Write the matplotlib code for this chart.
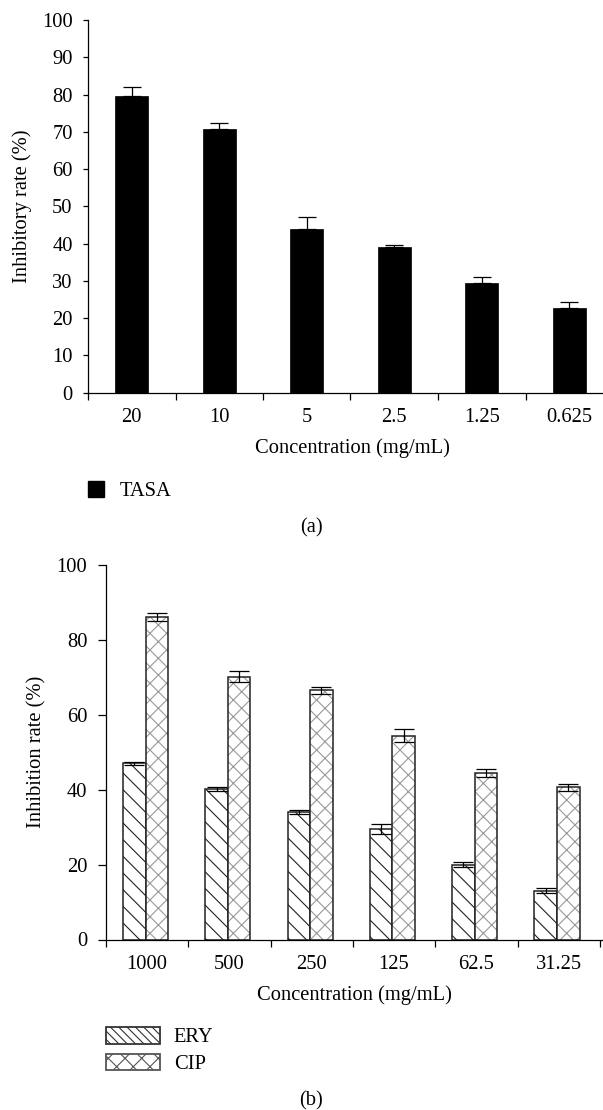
import matplotlib
matplotlib.use("Agg")
import matplotlib.pyplot as plt
import matplotlib.patches as mpatches
import numpy as np

plt.rcParams['font.family'] = ['Liberation Serif', 'DejaVu Serif']
plt.rcParams['font.size'] = 14.8
plt.rcParams['hatch.linewidth'] = 0.8

# panel (a)
conc_a = ["20", "10", "5", "2.5", "1.25", "0.625"]
tasa = [79.7, 70.8, 44.0, 39.0, 29.4, 22.7]
tasa_err = [2.3, 1.6, 3.2, 0.7, 1.6, 1.6]

# panel (b)
conc_b = ["1000", "500", "250", "125", "62.5", "31.25"]
ery = [47.0, 40.2, 34.0, 29.5, 20.0, 13.0]
ery_err = [0.4, 0.5, 0.6, 1.3, 0.75, 0.7]
cip = [86.2, 70.2, 66.5, 54.4, 44.4, 40.6]
cip_err = [1.1, 1.5, 1.0, 1.7, 1.1, 0.9]

W, H = 603, 1110
fig = plt.figure(figsize=(W / 100, H / 100), dpi=100)


def style_axis(ax, n, ymax, ystep, labels, ylen):
    for s in ["top", "right"]:
        ax.spines[s].set_visible(False)
    for s in ["left", "bottom"]:
        ax.spines[s].set_linewidth(0.9)
    ax.set_ylim(0, ymax)
    ax.set_yticks(np.arange(0, ymax + 1, ystep))
    ax.set_xticks(np.arange(0, n + 1))
    ax.set_xticklabels([])
    ax.set_xticks(np.arange(n) + 0.5, minor=True)
    ax.set_xticklabels(labels, minor=True)
    ax.tick_params(axis="x", which="major", direction="out", length=5, width=0.9)
    ax.tick_params(axis="x", which="minor", length=0, pad=11)
    ax.tick_params(axis="y", direction="out", length=ylen, width=0.9, pad=7.5)


# ---- (a)
ax1 = fig.add_axes([88 / W, 1 - 392.7 / H, (W - 88) / W, (392.7 - 20) / H])
xa = np.arange(len(conc_a)) + 0.5
ax1.bar(xa, tasa, width=0.377, color="black", edgecolor="black", linewidth=0.5,
        yerr=[np.zeros(len(tasa_err)), tasa_err], capsize=6.5,
        error_kw=dict(elinewidth=0.9, capthick=0.9, ecolor="black"))
style_axis(ax1, 6, 100, 10, conc_a, 3.5)
ax1.set_xlim(0, (W - 88) / 87.5)
ax1.set_ylabel("Inhibitory rate (%)")
ax1.yaxis.label.set_va("center")
ax1.yaxis.set_label_coords((22 - 88) / (W - 88), 0.5)
ax1.set_xlabel("Concentration (mg/mL)")
ax1.xaxis.set_label_coords((352 - 88) / (W - 88), -(448 - 392.7) / (392.7 - 20))
ax1.xaxis.label.set_va("center")
ax1.legend(handles=[mpatches.Patch(facecolor="black", edgecolor="black", label="TASA")],
           loc="center left", bbox_to_anchor=(88 / W, 1 - 491 / H),
           bbox_transform=fig.transFigure, frameon=False, borderpad=0,
           borderaxespad=0, handlelength=0.78, handleheight=0.78, handletextpad=0.78)
fig.text(311 / W, 1 - 528 / H, "(a)", ha="center", va="center")

# ---- (b)
ax2 = fig.add_axes([106 / W, 1 - 939.5 / H, (W - 106) / W, (939.5 - 565) / H])
xb = np.arange(len(conc_b)) + 0.48
bw = 0.274
ax2.bar(xb - bw / 2, ery, width=bw, color="white", edgecolor="#222222",
        hatch="\\\\", linewidth=0)
ax2.bar(xb - bw / 2, ery, width=bw, fill=False, edgecolor="#222222", linewidth=1.1,
        yerr=ery_err, capsize=7,
        error_kw=dict(elinewidth=0.9, capthick=0.9, ecolor="black"))
ax2.bar(xb + bw / 2, cip, width=bw, color="white", edgecolor="#999999",
        hatch="xx", linewidth=0)
ax2.bar(xb + bw / 2, cip, width=bw, fill=False, edgecolor="#222222", linewidth=1.1,
        yerr=cip_err, capsize=7,
        error_kw=dict(elinewidth=0.9, capthick=0.9, ecolor="black"))
style_axis(ax2, 6, 100, 20, conc_b, 6)
ax2.set_xlim(0, (W - 106) / 82.3)
ax2.set_ylabel("Inhibition rate (%)")
ax2.yaxis.label.set_va("center")
ax2.yaxis.set_label_coords((37 - 106) / (W - 106), 0.5)
ax2.set_xlabel("Concentration (mg/mL)")
ax2.xaxis.set_label_coords((354 - 106) / (W - 106), -(995 - 939.5) / (939.5 - 565))
ax2.xaxis.label.set_va("center")

h_ery = mpatches.Patch(facecolor="white", edgecolor="#333333", hatch="\\\\\\\\",
                       linewidth=1.3, label="ERY")
h_cip = mpatches.Patch(facecolor="white", edgecolor="#555555", hatch="xx",
                       linewidth=1.3, label="CIP")
ax2.legend(handles=[h_ery, h_cip],
           loc="upper left", bbox_to_anchor=(106 / W, 1 - 1027 / H),
           bbox_transform=fig.transFigure, frameon=False, borderpad=0,
           borderaxespad=0, handlelength=2.62, handleheight=0.87, handletextpad=0.68,
           labelspacing=0.3)
fig.text(311 / W, 1 - 1100.7 / H, "(b)", ha="center", va="center")

fig.savefig("out.png", dpi=100)
